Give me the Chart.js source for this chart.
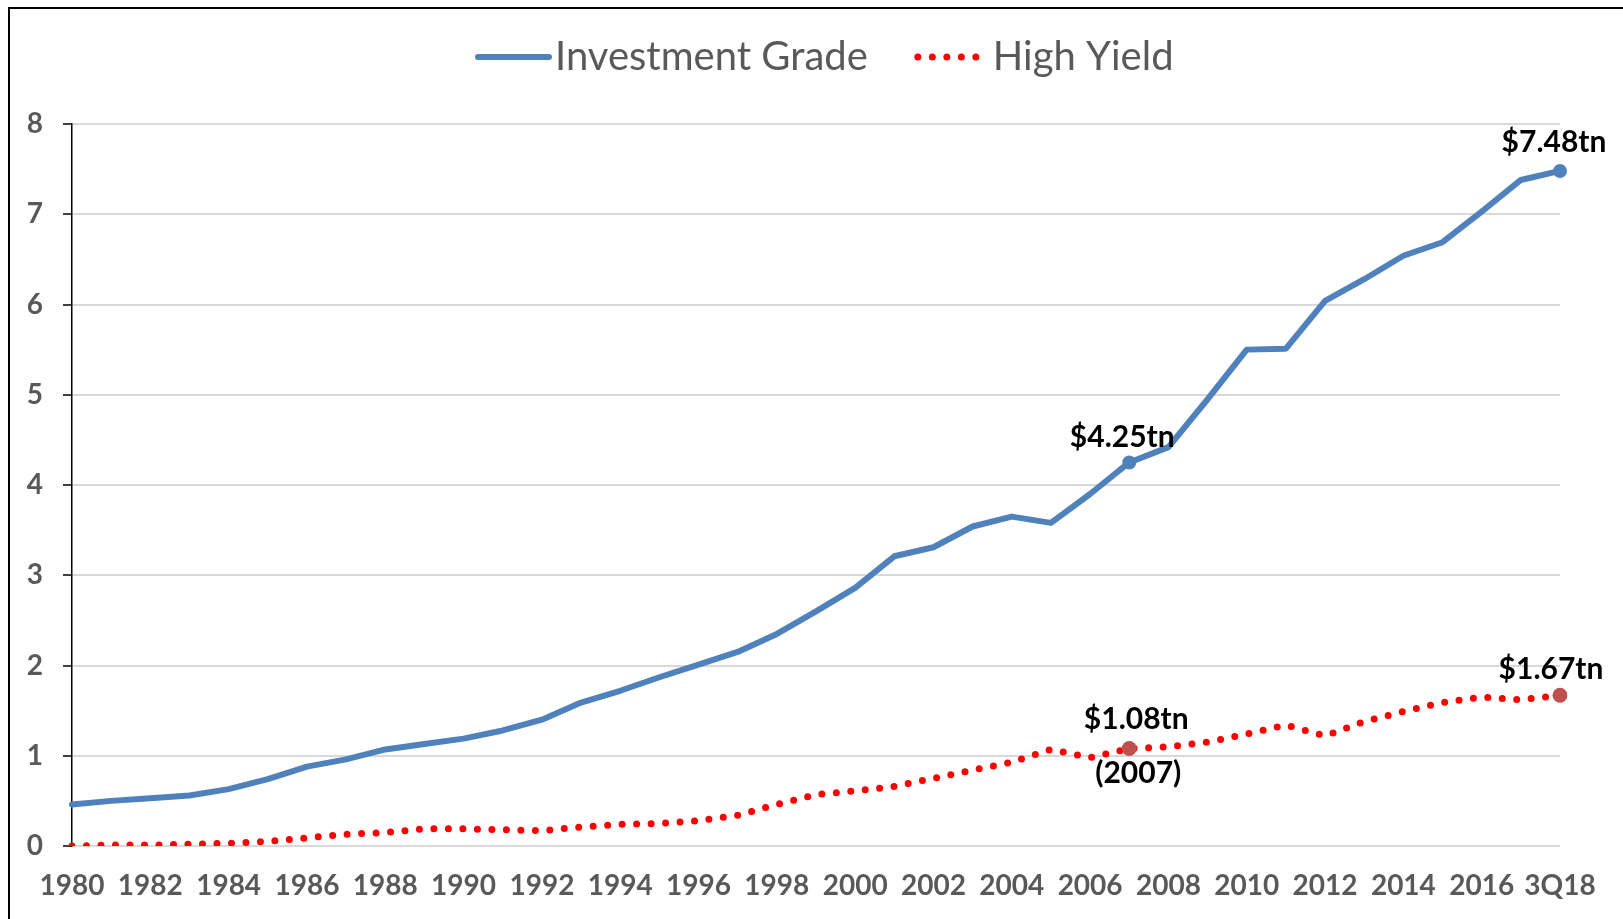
<!DOCTYPE html>
<html>
<head>
<meta charset="utf-8">
<script src="https://cdn.jsdelivr.net/npm/chart.js@4.4.1/dist/chart.umd.min.js"></script>
<style>
  body { margin: 0; background: #fff; }
  #wrap { width: 1623px; height: 919px; position: relative; }
</style>
</head>
<body>
<div id="wrap"><canvas id="chart"></canvas></div>
<script>
// categories + values ($tn outstanding)
var years = ['1980', '1981', '1982', '1983', '1984', '1985', '1986', '1987', '1988', '1989',
  '1990', '1991', '1992', '1993', '1994', '1995', '1996', '1997', '1998', '1999',
  '2000', '2001', '2002', '2003', '2004', '2005', '2006', '2007', '2008', '2009',
  '2010', '2011', '2012', '2013', '2014', '2015', '2016', '2017', '3Q18'];
var investmentGrade = [0.46, 0.50, 0.53, 0.56, 0.63, 0.74, 0.88, 0.96, 1.07, 1.13,
  1.19, 1.28, 1.40, 1.59, 1.72, 1.87, 2.01, 2.15, 2.35, 2.60,
  2.86, 3.21, 3.31, 3.54, 3.65, 3.58, 3.90, 4.25, 4.42, 4.95,
  5.50, 5.51, 6.04, 6.28, 6.54, 6.69, 7.03, 7.38, 7.48];
var highYield = [0.00, 0.01, 0.01, 0.02, 0.03, 0.05, 0.09, 0.13, 0.15, 0.19,
  0.19, 0.18, 0.17, 0.21, 0.24, 0.25, 0.28, 0.34, 0.46, 0.57,
  0.61, 0.66, 0.75, 0.84, 0.93, 1.07, 0.98, 1.08, 1.10, 1.15,
  1.24, 1.34, 1.22, 1.38, 1.49, 1.59, 1.65, 1.62, 1.67];
var yTicks = [0, 1, 2, 3, 4, 5, 6, 7, 8];
var seriesNames = ['Investment Grade', 'High Yield'];

// callouts: dataset, point index, text, offset from the point
var callouts = [
  { ds: 0, idx: 27, text: '$4.25tn', dx: -7, dy: -25 },
  { ds: 0, idx: 38, text: '$7.48tn', dx: -6, dy: -29 },
  { ds: 1, idx: 27, text: '$1.08tn', dx: 7, dy: -29 },
  { ds: 1, idx: 27, text: '(2007)', dx: 9, dy: 25 },
  { ds: 1, idx: 38, text: '$1.67tn', dx: -9, dy: -26 }
];
var markedIdx = [27, 38];

function radii(r) {
  return years.map(function(y, i) { return markedIdx.indexOf(i) >= 0 ? r : 0; });
}

var grey = '#595959';

var extras = {
  id: 'extras',
  beforeDraw: function(chart) {
    var ctx = chart.ctx;
    ctx.save();
    ctx.fillStyle = '#fff';
    ctx.fillRect(0, 0, chart.width, chart.height);
    ctx.strokeStyle = '#000';
    ctx.lineWidth = 2;
    ctx.strokeRect(9, 8, chart.width + 50, chart.height + 50);
    ctx.restore();
  },
  afterDraw: function(chart) {
    var ctx = chart.ctx;
    ctx.save();
    // callout labels
    ctx.font = 'bold 30px Lato';
    ctx.fillStyle = '#000';
    ctx.textAlign = 'center';
    ctx.textBaseline = 'middle';
    callouts.forEach(function(c) {
      var pt = chart.getDatasetMeta(c.ds).data[c.idx];
      ctx.fillText(c.text, pt.x + c.dx, pt.y + c.dy);
    });

    // legend
    var x = 478, y = 57;
    ctx.font = '40px Lato';
    ctx.textAlign = 'left';
    ctx.fillStyle = grey;
    chart.data.datasets.forEach(function(ds, i) {
      var len = i === 0 ? 71 : 60;
      ctx.beginPath();
      ctx.strokeStyle = ds.borderColor;
      ctx.lineWidth = ds.borderWidth;
      ctx.lineCap = 'round';
      ctx.setLineDash(ds.borderDash || []);
      ctx.moveTo(x, y);
      ctx.lineTo(x + len, y);
      ctx.stroke();
      ctx.setLineDash([]);
      x += len + (i === 0 ? 6 : 15);
      ctx.fillText(ds.label, x, y);
      x += ctx.measureText(ds.label).width + 50;
    });
    ctx.restore();
  }
};

var ctx = document.getElementById('chart').getContext('2d');
var chart = new Chart(ctx, {
  type: 'line',
  data: {
    labels: years,
    datasets: [{
      label: seriesNames[0],
      data: investmentGrade,
      borderColor: '#4F81BD',
      backgroundColor: '#4F81BD',
      borderWidth: 6,
      borderJoinStyle: 'round',
      borderCapStyle: 'round',
      pointRadius: radii(7),
      pointBackgroundColor: '#4F81BD',
      pointBorderWidth: 0,
      tension: 0
    }, {
      label: seriesNames[1],
      data: highYield,
      borderColor: '#FF0000',
      backgroundColor: '#FF0000',
      borderWidth: 7,
      borderDash: [0, 14.5],
      borderCapStyle: 'round',
      pointRadius: radii(7.5),
      pointBackgroundColor: '#C0504D',
      pointBorderWidth: 0,
      tension: 0
    }]
  },
  options: {
    responsive: true,
    maintainAspectRatio: false,
    animation: false,
    layout: { padding: { top: 124, right: 63, bottom: 0, left: 0 } },
    plugins: {
      legend: { display: false },
      tooltip: { enabled: false }
    },
    scales: {
      x: {
        offset: false,
        grid: { display: false, drawTicks: false },
        border: { display: false },
        ticks: {
          autoSkip: false,
          maxRotation: 0,
          padding: 23,
          color: grey,
          font: { family: 'Lato', size: 28, weight: 'bold' },
          callback: function(v, i) { return i % 2 === 0 ? years[i] : ''; }
        },
        afterFit: function(s) { s.height = 73; }
      },
      y: {
        min: yTicks[0],
        max: yTicks[yTicks.length - 1],
        afterBuildTicks: function(s) { s.ticks = yTicks.map(function(v) { return { value: v }; }); },
        grid: { color: '#D9D9D9', lineWidth: 2, tickColor: '#000', tickLength: 9, tickWidth: 1.5 },
        border: { color: '#000', width: 1.5 },
        ticks: {
          padding: 20,
          color: grey,
          font: { family: 'Lato', size: 28, weight: 'bold' }
        },
        afterFit: function(s) { s.width = 72; }
      }
    }
  },
  plugins: [extras]
});
</script>
</body>
</html>
